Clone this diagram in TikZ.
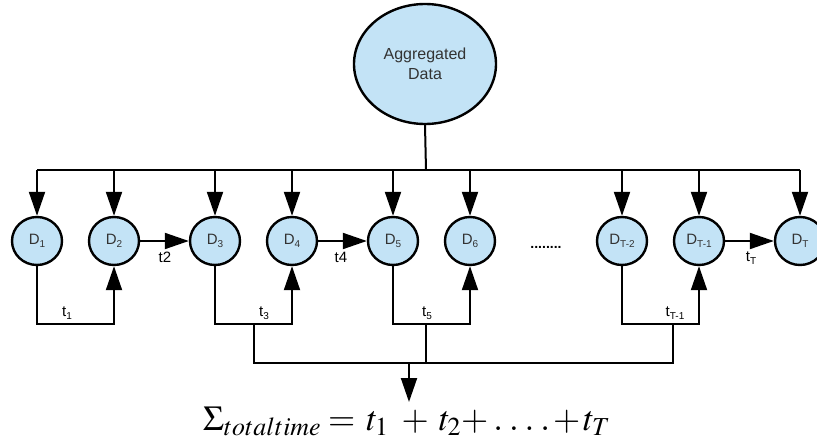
\documentclass[tikz,border=0pt]{standalone}
\usepackage{mathptmx}
\usepackage[no-math]{fontspec}
\setmainfont{Liberation Sans}
\usetikzlibrary{arrows.meta,shapes.geometric}
\definecolor{nodefill}{HTML}{C3E3F6}
\definecolor{nodetext}{HTML}{333333}
\tikzset{
  line/.style={draw=black, line width=2pt},
  arr/.style={line, -{Triangle[length=24pt,width=16pt]}},
  dnode/.style={ellipse, draw=black, line width=2.4pt, fill=nodefill,
    minimum width=50pt, minimum height=48pt, inner sep=0pt,
    text=nodetext, font=\fontsize{15}{17}\selectfont},
  tlabel/.style={font=\fontsize{15}{17}\selectfont, text=black, inner sep=1pt},
}
% lowered, smaller index text
\newcommand{\sub}[1]{\raisebox{-2.5pt}{\fontsize{10}{12}\selectfont #1}}
\begin{document}
\begin{tikzpicture}[x=1pt, y=-1pt]
  \useasboundingbox (0,0) rectangle (817,444);
  \clip (0,0) rectangle (817,444);

  % source of the data
  \node[dnode, minimum width=142pt, minimum height=120pt,
        font=\fontsize{16}{20}\selectfont, align=center] (agg) at (425,64)
        {Aggregated\\Data};

  % the sequence of data sets
  \node[dnode] (d1) at (37,241)  {D\sub{1}};
  \node[dnode] (d2) at (114,241) {D\sub{2}};
  \node[dnode] (d3) at (215,241) {D\sub{3}};
  \node[dnode] (d4) at (292,241) {D\sub{4}};
  \node[dnode] (d5) at (393,241) {D\sub{5}};
  \node[dnode] (d6) at (470,241) {D\sub{6}};
  \node[dnode] (dt2) at (622,241) {D\sub{T-2}};
  \node[dnode] (dt1) at (699,241) {D\sub{T-1}};
  \node[dnode] (dt)  at (800,241) {D\sub{T}};
  \node[font=\fontsize{14}{16}\selectfont\bfseries, inner sep=0pt] (dots) at (546,247) {........};

  % distribution bus
  \coordinate (bus) at (426,170);
  \draw[line] (agg.south) -- (bus);
  \draw[line] (d1 |- bus) -- (dt |- bus);
  \foreach \n in {d1,d2,d3,d4,d5,d6,dt2,dt1,dt}
    \draw[arr] (\n |- bus) -- (\n.north);

  % direct transfers
  \draw[arr] (d2.east) -- (d3.west);
  \draw[arr] (d4.east) -- (d5.west);
  \draw[arr] (dt1.east) -- (dt.west);
  \node[tlabel] (l2) at (165,257) {t2};
  \node[tlabel] (l4) at (341,257) {t4};
  \node[tlabel] (lT) at (751,258) {t\sub{T}};

  % loops underneath
  \coordinate (loopy) at (0,324);
  \draw[arr] (d1.south) -- (d1 |- loopy) -- (d2 |- loopy) -- (d2.south);
  \draw[arr] (d3.south) -- (d3 |- loopy) -- (d4 |- loopy) -- (d4.south);
  \draw[arr] (d5.south) -- (d5 |- loopy) -- (d6 |- loopy) -- (d6.south);
  \draw[arr] (dt2.south) -- (dt2 |- loopy) -- (dt1 |- loopy) -- (dt1.south);
  \node[tlabel] (t1) at (67,313) {t\sub{1}};
  \node[tlabel] (t3) at (264,313) {t\sub{3}};
  \node[tlabel] (t5) at (427,313) {t\sub{5}};
  \node[tlabel] (tT1) at (675,313) {t\sub{T-1}};

  % collection bus
  \coordinate (ca) at (254,324);
  \coordinate (cb) at (426,324);
  \coordinate (cc) at (673,324);
  \coordinate (cy) at (0,363);
  \draw[line] (ca) -- (ca |- cy) -- (cc |- cy) -- (cc);
  \draw[line] (cb) -- (cb |- cy);
  \node[inner sep=0pt, anchor=base west] (sum) at (203,430)
    {\fontsize{35}{42}\selectfont$\Sigma_{totaltime}\hspace{7pt}{=}\hspace{11pt}t_1\hspace{13pt}{+}\hspace{10pt}t_2{+}\hspace{5pt}.\hspace{6pt}.\hspace{6pt}.\hspace{6pt}.\hspace{3pt}{+}\hspace{3pt}t_T$};
  \coordinate (cd) at (409,363);
  \draw[arr] (cd) -- (cd |- 0,402);
\end{tikzpicture}
\end{document}
